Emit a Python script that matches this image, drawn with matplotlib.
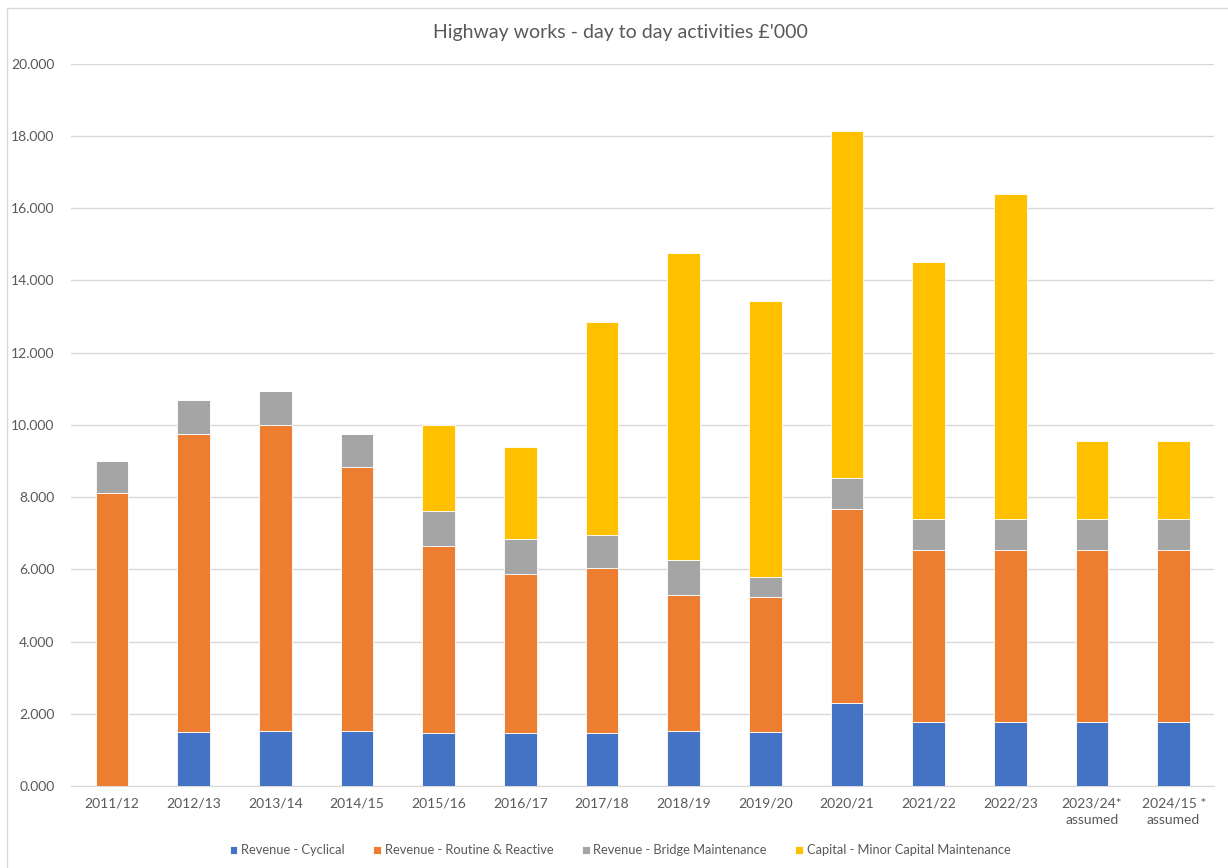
import numpy as np
import matplotlib.pyplot as plt
from matplotlib.lines import Line2D

plt.rcParams['font.family'] = ['Lato', 'DejaVu Sans']

years = ["2011/12", "2012/13", "2013/14", "2014/15", "2015/16", "2016/17", "2017/18",
         "2018/19", "2019/20", "2020/21", "2021/22", "2022/23", "2023/24*\nassumed",
         "2024/15 *\nassumed"]

# £'000 (thousands)
cyclical = [0.00, 1.49, 1.52, 1.52, 1.47, 1.47, 1.47, 1.52, 1.49, 2.30, 1.77, 1.77, 1.77, 1.77]
routine = [8.10, 8.27, 8.47, 7.30, 5.17, 4.39, 4.56, 3.76, 3.74, 5.36, 4.76, 4.76, 4.76, 4.76]
bridge = [0.89, 0.92, 0.94, 0.94, 0.97, 0.97, 0.91, 0.97, 0.55, 0.86, 0.86, 0.86, 0.86, 0.86]
capital = [0.00, 0.00, 0.00, 0.00, 2.38, 2.55, 5.92, 8.52, 7.66, 9.63, 7.11, 9.01, 2.15, 2.15]

series = [("Revenue - Cyclical", cyclical, "#4472C4"),
          ("Revenue - Routine & Reactive", routine, "#ED7D31"),
          ("Revenue - Bridge Maintenance", bridge, "#A5A5A5"),
          ("Capital - Minor Capital Maintenance", capital, "#FFC000")]

fig = plt.figure(figsize=(12.28, 8.68), dpi=100)
ax = fig.add_axes([0.058, 0.0945, 0.931, 0.832])

x = np.arange(len(years))
bottom = np.zeros(len(years))
for name, vals, col in series:
    vals = np.array(vals)
    ax.bar(x, vals, 0.4, bottom=bottom, color=col, label=name,
           edgecolor="white", linewidth=0.6, zorder=3)
    bottom += vals

ax.set_xlim(-0.5, len(years) - 0.5)
ax.set_ylim(0, 20)
ax.set_yticks(np.arange(0, 20.01, 2))
ax.set_yticklabels([f"{v:.3f}" for v in np.arange(0, 20.01, 2)])
ax.set_xticks(x)
ax.set_xticklabels(years, linespacing=1.45)
ax.grid(axis="y", color="#D9D9D9", linewidth=1, zorder=0)
for s in ["top", "right", "left"]:
    ax.spines[s].set_visible(False)
ax.spines["bottom"].set_color("#D9D9D9")
ax.tick_params(axis="both", length=0, colors="#595959", labelsize=10)
ax.tick_params(axis="x", pad=8)
ax.tick_params(axis="y", pad=12)

fig.text(0.505, 0.962, "Highway works - day to day activities £'000", ha="center", va="center",
         fontsize=14, color="#595959")
fig.legend(loc="lower center", bbox_to_anchor=(0.505, 0.0), ncol=4, frameon=False,
           fontsize=9.3, handlelength=0.6, handleheight=0.6, columnspacing=2.2,
           handletextpad=0.3, labelcolor="#595959")

fig.add_artist(Line2D([0.0057, 1.0], [0.991, 0.991], color="#D9D9D9", lw=1, transform=fig.transFigure))
fig.add_artist(Line2D([0.0057, 0.0057], [0.0, 0.991], color="#D9D9D9", lw=1, transform=fig.transFigure))

fig.savefig("out.png", dpi=100)
